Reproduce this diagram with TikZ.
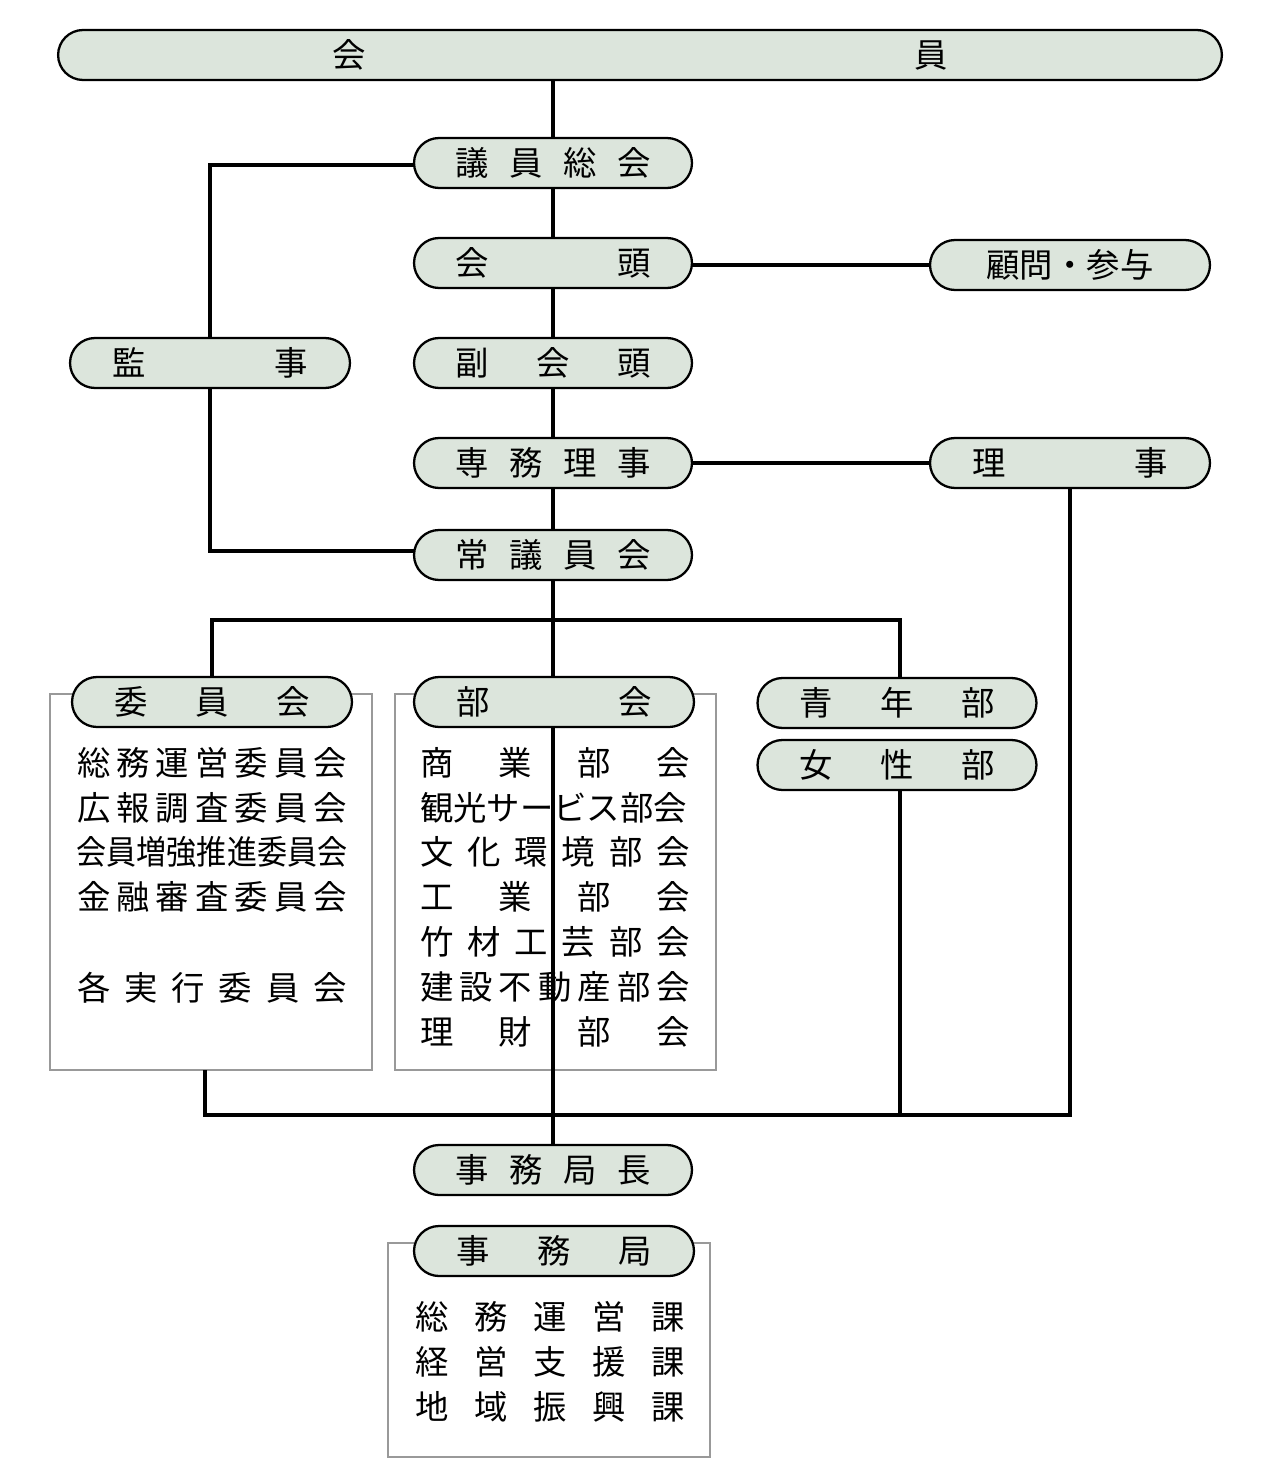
\documentclass[tikz,border=0pt]{standalone}
\usepackage{fontspec}
\setmainfont{Noto Sans CJK JP}
\definecolor{pf}{HTML}{DCE5DC}
\definecolor{bx}{HTML}{999999}
\newcommand{\spr}[2]{\makebox[#1][s]{#2}}
\begin{document}
\begin{tikzpicture}[x=0.02cm,y=-0.02cm,
  pill/.style={draw,line width=1.3pt,fill=pf,rounded corners=0.5cm,minimum height=1cm,inner sep=0pt,font=\fontsize{19}{19}\selectfont},
  conn/.style={line width=2.4pt},
  lst/.style={inner sep=0pt,font=\fontsize{19}{19}\selectfont},
  grp/.style={draw=bx,line width=1.3pt}]
\useasboundingbox (0,0) rectangle (1280,1483);
% group boxes
\draw[grp] (50,694) rectangle (372,1070);
\draw[grp] (395,694) rectangle (716,1070);
\draw[grp] (388,1243) rectangle (710,1457);
% connectors coordinates
\coordinate (jA) at (210,165);
\coordinate (jB) at (210,551);
\coordinate (jL) at (212,620);
\coordinate (jM) at (553,620);
\coordinate (jR) at (900,620);
\coordinate (bL) at (205,1115);
\coordinate (bM) at (553,1115);
\coordinate (bY) at (900,1115);
\coordinate (bR) at (1070,1115);
\coordinate (iB) at (205,1070);
\coordinate (bB) at (553,1070);
% connectors
\draw[conn] (553,80) -- (553,1145);
\draw[conn] (414,165) -- (jA) -- (210,338);
\draw[conn] (210,388) -- (jB) -- (414,551);
\draw[conn] (692,265) -- (930,265);
\draw[conn] (692,463) -- (930,463);
\draw[conn] (212,678) -- (jL) -- (jR) -- (900,678);
\draw[conn] (iB) -- (bL) -- (bR) -- (1070,488);
\draw[conn] (900,790) -- (bY);
% pills
\node[pill,minimum width=23.28cm] (kai) at (640,55) {\spr{12.3cm}{会\hfill 員}};
\node[pill,minimum width=5.56cm] (giin) at (553,163) {\spr{3.9cm}{議\hfill 員\hfill 総\hfill 会}};
\node[pill,minimum width=5.56cm] (kaito) at (553,263) {\spr{3.9cm}{会\hfill 頭}};
\node[pill,minimum width=5.6cm] (komon) at (1070,265) {顧問・参与};
\node[pill,minimum width=5.6cm] (kanji) at (210,363) {\spr{3.9cm}{監\hfill 事}};
\node[pill,minimum width=5.56cm] (fuku) at (553,363) {\spr{3.9cm}{副\hfill 会\hfill 頭}};
\node[pill,minimum width=5.56cm] (senmu) at (553,463) {\spr{3.9cm}{専\hfill 務\hfill 理\hfill 事}};
\node[pill,minimum width=5.6cm] (riji) at (1070,463) {\spr{3.9cm}{理\hfill 事}};
\node[pill,minimum width=5.56cm] (jogi) at (553,555) {\spr{3.9cm}{常\hfill 議\hfill 員\hfill 会}};
\node[pill,minimum width=5.6cm] (iinkai) at (212,702) {\spr{3.9cm}{委\hfill 員\hfill 会}};
\node[pill,minimum width=5.6cm] (bukai) at (554,702) {\spr{3.9cm}{部\hfill 会}};
\node[pill,minimum width=5.58cm] (seinen) at (897,703) {\spr{3.9cm}{青\hfill 年\hfill 部}};
\node[pill,minimum width=5.58cm] (josei) at (897,765) {\spr{3.9cm}{女\hfill 性\hfill 部}};
\node[pill,minimum width=5.56cm] (kyokucho) at (553,1170) {\spr{3.9cm}{事\hfill 務\hfill 局\hfill 長}};
\node[pill,minimum width=5.6cm] (kyoku) at (554,1251) {\spr{3.9cm}{事\hfill 務\hfill 局}};
% lists
\node[lst] (i1) at (212,763) {\spr{5.4cm}{総\hfill 務\hfill 運\hfill 営\hfill 委\hfill 員\hfill 会}};
\node[lst] (i2) at (212,808) {\spr{5.4cm}{広\hfill 報\hfill 調\hfill 査\hfill 委\hfill 員\hfill 会}};
\node[lst] (i3) at (212,852) {\scalebox{0.9}[1]{会員増強推進委員会}};
\node[lst] (i4) at (212,897) {\spr{5.4cm}{金\hfill 融\hfill 審\hfill 査\hfill 委\hfill 員\hfill 会}};
\node[lst] (i5) at (212,988) {\spr{5.4cm}{各\hfill 実\hfill 行\hfill 委\hfill 員\hfill 会}};
\node[lst] (b1) at (555,763) {\spr{5.4cm}{商\hfill 業\hfill 部\hfill 会}};
\node[lst] (b2) at (555,808) {\spr{5.4cm}{観光サービス部会}};
\node[lst] (b3) at (555,852) {\spr{5.4cm}{文\hfill 化\hfill 環\hfill 境\hfill 部\hfill 会}};
\node[lst] (b4) at (555,897) {\spr{5.4cm}{工\hfill 業\hfill 部\hfill 会}};
\node[lst] (b5) at (555,942) {\spr{5.4cm}{竹\hfill 材\hfill 工\hfill 芸\hfill 部\hfill 会}};
\node[lst] (b6) at (555,987) {\spr{5.4cm}{建\hfill 設\hfill 不\hfill 動\hfill 産\hfill 部\hfill 会}};
\node[lst] (b7) at (555,1032) {\spr{5.4cm}{理\hfill 財\hfill 部\hfill 会}};
\node[lst] (k1) at (550,1317) {\spr{5.4cm}{総\hfill 務\hfill 運\hfill 営\hfill 課}};
\node[lst] (k2) at (550,1362) {\spr{5.4cm}{経\hfill 営\hfill 支\hfill 援\hfill 課}};
\node[lst] (k3) at (550,1407) {\spr{5.4cm}{地\hfill 域\hfill 振\hfill 興\hfill 課}};
\end{tikzpicture}
\end{document}
